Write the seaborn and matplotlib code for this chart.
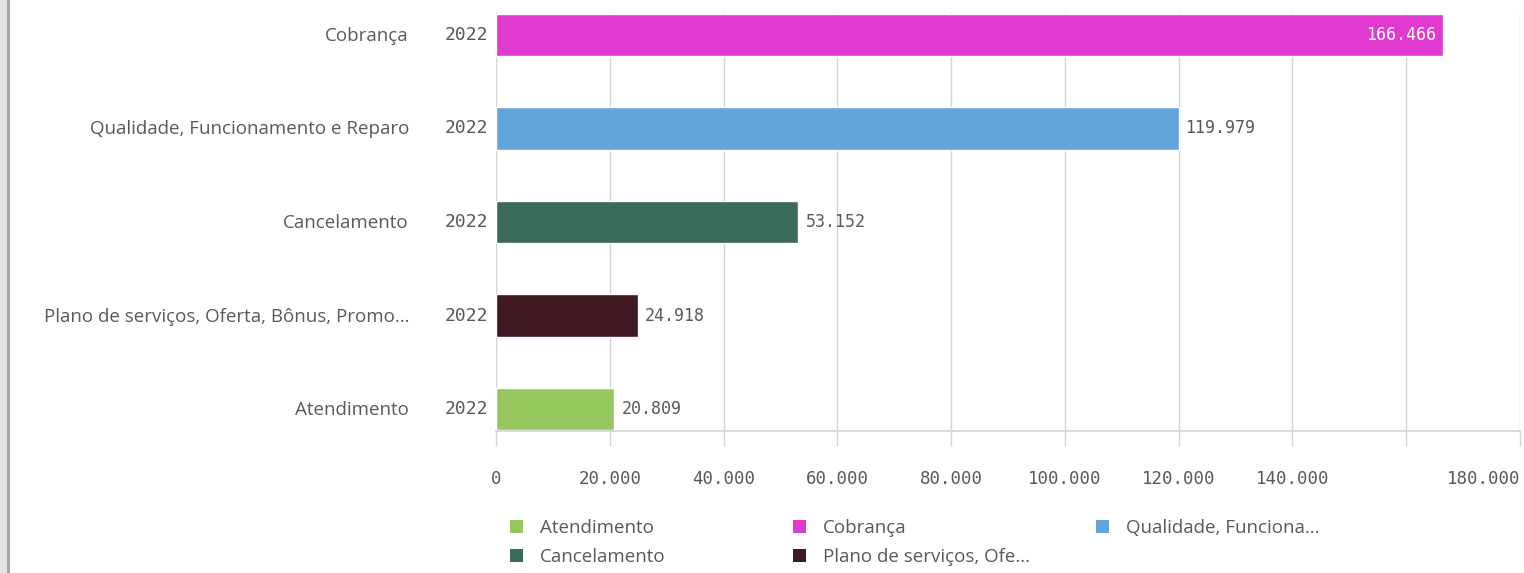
import matplotlib
matplotlib.use("Agg")
import matplotlib.pyplot as plt
import matplotlib.transforms as mtransforms
import seaborn as sns
import pandas as pd
from matplotlib.patches import Patch, Rectangle

categories = ["Cobrança", "Qualidade, Funcionamento e Reparo", "Cancelamento",
              "Plano de serviços, Oferta, Bônus, Promo...", "Atendimento"]
years = ["2022", "2022", "2022", "2022", "2022"]
values = [166466, 119979, 53152, 24918, 20809]
value_labels = ["166.466", "119.979", "53.152", "24.918", "20.809"]
colors = ["#e03ad0", "#62a5da", "#3a6b58", "#411920", "#96c65e"]

xticks = [0, 20000, 40000, 60000, 80000, 100000, 120000, 140000, 160000, 180000]
xtick_labels = ["0", "20.000", "40.000", "60.000", "80.000", "100.000",
                "120.000", "140.000", "", "180.000"]

legend_cols = [
    [("Atendimento", "#96c65e"), ("Cancelamento", "#3a6b58")],
    [("Cobrança", "#e03ad0"), ("Plano de serviços, Ofe...", "#411920")],
    [("Qualidade, Funciona...", "#62a5da")],
]

sns.set_theme(style="white")
plt.rcParams["font.family"] = ["Open Sans", "DejaVu Sans"]
text_gray = "#595959"
grid_gray = "#d4d4d4"
mono = "DejaVu Sans Mono"

df = pd.DataFrame({"cat": categories, "val": values})

W, H = 1524, 573
fig = plt.figure(figsize=(W / 100, H / 100), dpi=100)
ax = fig.add_axes([496 / W, 1 - 431 / H, (1520 - 496) / W, (431 - 13) / H])

sns.barplot(data=df, y="cat", x="val", hue="cat", palette=colors, orient="h",
            width=0.45, legend=False, ax=ax, saturation=1)

ax.set_xlim(0, 180000)
ax.set_ylim(4.235, -0.235)
ax.set_xticks(xticks)
ax.set_xticklabels(xtick_labels, fontfamily=mono, fontsize=12.5, color=text_gray)
ax.get_xticklabels()[-1].set_ha("right")
ax.tick_params(axis="x", length=11, width=1, color=grid_gray, pad=17, bottom=True)
ax.set_yticks(range(len(categories)))
ax.set_yticklabels(years, fontfamily=mono, fontsize=13, color=text_gray)
ax.tick_params(axis="y", length=0, pad=6)
# nudge the year labels up a little so the digits sit on the bar centre
up = mtransforms.ScaledTranslation(0, 2 / 100, fig.dpi_scale_trans)
for lab in ax.get_yticklabels():
    lab.set_transform(lab.get_transform() + up)
ax.set_xlabel("")
ax.set_ylabel("")
ax.xaxis.grid(True, color=grid_gray, linewidth=1)
ax.set_axisbelow(True)
for s in ["top", "right", "left"]:
    ax.spines[s].set_visible(False)
ax.spines["bottom"].set_color(grid_gray)
ax.spines["bottom"].set_linewidth(1.2)

# category names left of the year labels
for i, c in enumerate(categories):
    ax.annotate(c, xy=(0, i), xycoords=("axes fraction", "data"),
                xytext=(-87, -1), textcoords="offset pixels",
                ha="right", va="center", fontsize=13.5, color=text_gray)

# value labels
for i, (v, lab) in enumerate(zip(values, value_labels)):
    if i == 0:
        ax.annotate(lab, xy=(v, i), xytext=(-7, 0), textcoords="offset pixels",
                    ha="right", va="center", fontfamily=mono, fontsize=12,
                    color="white")
    else:
        ax.annotate(lab, xy=(v, i), xytext=(7, 0), textcoords="offset pixels",
                    ha="left", va="center", fontfamily=mono, fontsize=12,
                    color=text_gray)

# legend: one column per block, fixed column positions
col_x = [510, 793, 1096]
for x, items in zip(col_x, legend_cols):
    handles = [Patch(facecolor=c, edgecolor="none", label=l) for l, c in items]
    fig.legend(handles=handles, loc="upper left",
               bbox_to_anchor=(x / W, 1 - 519 / H), frameon=False,
               handlelength=0.7, handleheight=0.7, handletextpad=0.9,
               labelspacing=0.6, fontsize=13.5, labelcolor=text_gray,
               borderaxespad=0, borderpad=0)

# left window edge
fig.patches.append(Rectangle((0, 0), 7 / W, 1, transform=fig.transFigure,
                             facecolor="#e4e4e4", edgecolor="none"))
fig.patches.append(Rectangle((7 / W, 0), 3 / W, 1, transform=fig.transFigure,
                             facecolor="#a8a8a8", edgecolor="none"))

fig.savefig("out.png", dpi=100)
